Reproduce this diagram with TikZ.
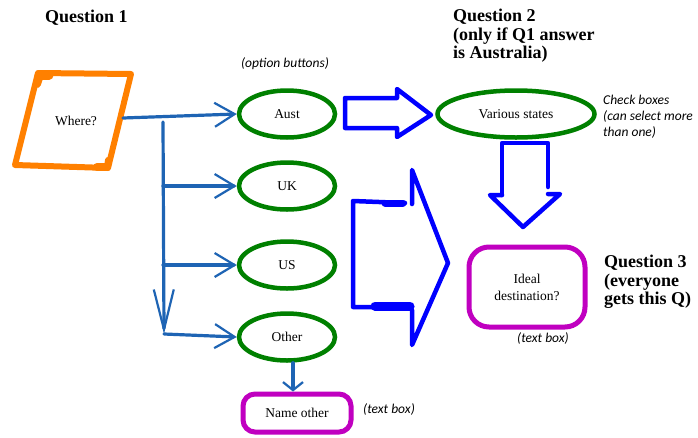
\documentclass[tikz,border=0pt]{standalone}
\usepackage{fontspec}
\setmainfont{Liberation Serif}
\newfontfamily\notefont{Carlito}
\usetikzlibrary{arrows.meta,shapes.geometric}
\definecolor{connblue}{RGB}{30,100,180}
\definecolor{bigblue}{RGB}{0,0,255}
\definecolor{okgreen}{RGB}{0,128,0}
\definecolor{boxmag}{RGB}{192,0,192}
\definecolor{wherorange}{RGB}{255,128,0}
\tikzset{
  opt/.style={ellipse, draw=okgreen, line width=4.5pt, minimum width=96pt, minimum height=47pt, inner sep=0pt, font=\fontsize{13.5}{16}\selectfont},
  tbox/.style={draw=boxmag, line width=5pt, rounded corners=12pt, inner sep=0pt, align=center, font=\fontsize{13.5}{17}\selectfont},
  conn/.style={draw=connblue, line width=3.2pt, line cap=round},
  barb/.style={-{Straight Barb[length=20pt,width=24pt,line width=2.2pt]}},
  longbarb/.style={-{Straight Barb[length=40pt,width=20pt,line width=2.2pt]}},
  smallbarb/.style={-{Straight Barb[length=8pt,width=20pt,line width=2.2pt]}},
  bigarrow/.style={draw=bigblue, line width=4.5pt, line join=round, line cap=round},
  qtitle/.style={font=\fontsize{18}{18.5}\selectfont\bfseries, align=left, inner sep=0pt},
  note/.style={font=\fontsize{13.5}{16}\selectfont\notefont\itshape, align=left, inner sep=0pt},
  orangeline/.style={draw=wherorange, line join=round, line cap=round},
}
\begin{document}
\begin{tikzpicture}[x=1pt,y=-1pt]
\useasboundingbox (0,0) rectangle (698,437);
\fill[white] (0,0) rectangle (698,437);

% titles
\node[qtitle, anchor=base west] (q1) at (45,22) {Question 1};
\node[qtitle, anchor=north west] (q2) at (453,9) {Question 2\\(only if Q1 answer\\is Australia)};
\node[qtitle, anchor=north west] (q3) at (604,255) {Question 3\\(everyone\\gets this Q)};

% notes
\node[note, anchor=base] (optnote) at (285,67) {(option buttons)};
\node[note, anchor=north west] (cbnote) at (603,95) {Check boxes\\(can select more\\than one)};
\node[note, anchor=base] (tb1) at (543,342) {(text box)};
\node[note, anchor=base west] (tb2) at (363,413) {(text box)};

% Where? parallelogram
\draw[orangeline, line width=6pt]
  (38,73) -- (131,74) -- (108,168) -- (15,165) -- cycle;
\draw[orangeline, line width=9pt] (39,75) -- (49,75);
\draw[orangeline, line width=8pt] (40,75) -- (37,84);
\draw[orangeline, line width=8pt] (97,167) -- (107,167);
\draw[orangeline, line width=6pt] (107,167) -- (108,160);
\node[font=\fontsize{13.5}{16}\selectfont] (where) at (76,121) {Where?};
\coordinate (whereout) at (123,118);

% option ellipses
\node[opt] (aust) at (287,114) {Aust};
\node[opt] (uk) at (287,186) {UK};
\node[opt] (us) at (287,265) {US};
\node[opt] (other) at (287,337) {Other};

% Name other
\node[tbox, minimum width=108pt, minimum height=38pt] (nameother) at (297,413) {Name other};

% Various states
\node[opt, minimum width=157pt, minimum height=47pt] (various) at (516,114) {Various states};

% Ideal destination
\node[tbox, minimum width=116pt, minimum height=80pt, rounded corners=20pt] (ideal) at (527,287) {Ideal\\destination?};

% connectors
\coordinate (jtop) at (163,118);
\coordinate (jbot) at (164,334);
\draw[conn, barb] (whereout) -- (aust.west);
\draw[conn, longbarb] (163,122) -- (jbot);
\draw[conn, barb] (jtop |- uk.west) -- (uk.west);
\draw[conn, barb] (jtop |- us.west) -- (us.west);
\draw[conn, barb] (jbot) -- (other.west);
\draw[conn, smallbarb] ([xshift=6pt]other.south) -- ([xshift=-4pt]nameother.north);

% block arrow Aust -> Various
\draw[bigarrow] (345,98) -- (397,98) -- (397,89) -- (431,115) -- (397,137) -- (397,128) -- (345,128) -- cycle;

% block arrow Various -> Ideal
\draw[bigarrow] (502,195) -- (502,143) -- (548,143) -- (548,187);
\draw[bigarrow] (548,194) -- (560,194) -- (523,227) -- (490,195) -- (502,195);

% big bracket arrow -> Ideal
\draw[bigarrow] (405,203) -- (353,201) -- (353,307) -- (412,307);
\draw[bigarrow, line width=7pt] (385,203) -- (403,203);
\draw[bigarrow, line width=9pt] (375,306) -- (410,306);
\draw[bigarrow] (412,204) -- (412,170) -- (448,263) -- (412,345) -- (412,310);
\end{tikzpicture}
\end{document}
